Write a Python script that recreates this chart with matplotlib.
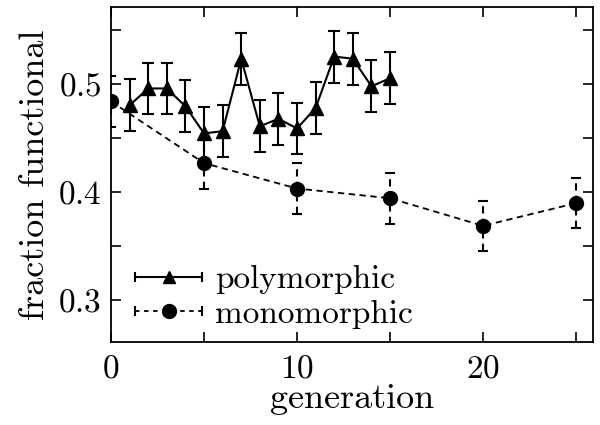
import matplotlib
matplotlib.use("Agg")
import matplotlib.pyplot as plt
from matplotlib.legend_handler import HandlerLine2D
from matplotlib.lines import Line2D
from matplotlib.ticker import MultipleLocator

plt.rcParams['font.family'] = 'serif'
plt.rcParams['font.serif'] = ['cmr10']
plt.rcParams['mathtext.fontset'] = 'cm'
plt.rcParams['axes.formatter.use_mathtext'] = True

# polymorphic populations
poly_gen = [1, 2, 3, 4, 5, 6, 7, 8, 9, 10, 11, 12, 13, 14, 15]
poly_frac = [0.480, 0.4955, 0.4955, 0.479, 0.454, 0.456, 0.523, 0.4605, 0.4675,
             0.4585, 0.4775, 0.525, 0.523, 0.4975, 0.505]
poly_err = [0.024] * len(poly_gen)

# monomorphic populations
mono_gen = [0, 5, 10, 15, 20, 25]
mono_frac = [0.4835, 0.4265, 0.403, 0.394, 0.3685, 0.3895]
mono_err = [0.0235, 0.024, 0.0235, 0.0235, 0.023, 0.023]

DASH = (3.5, 2.5)


class HandlerCapped(HandlerLine2D):
    # gnuplot-like key: line with marker in the middle and caps at the ends
    def create_artists(self, legend, orig_handle, xdescent, ydescent,
                       width, height, fontsize, trans):
        artists = super().create_artists(legend, orig_handle, xdescent, ydescent,
                                         width, height, fontsize, trans)
        y = height / 2 - ydescent
        caps = Line2D([-xdescent, width - xdescent], [y, y], ls='none',
                      marker='|', markersize=7, markeredgewidth=1.5, color='k',
                      transform=trans)
        return list(artists) + [caps]


fig = plt.figure(figsize=(6, 4.25), dpi=100)
ax = fig.add_axes([0.185, 0.195, 0.803, 0.789])

eb1 = ax.errorbar(poly_gen, poly_frac, yerr=poly_err, color='k', ls='-', lw=1.5,
                  marker='^', markersize=10, capsize=4.5, elinewidth=1.5,
                  capthick=1.5)
eb2 = ax.errorbar(mono_gen, mono_frac, yerr=mono_err, color='k', ls='--', lw=1.3,
                  dashes=DASH, marker='o', markersize=10, capsize=3.5,
                  elinewidth=1.5, capthick=1.5)
eb2[2][0].set_linestyle((0, DASH))

h1 = Line2D([], [], color='k', ls='-', lw=1.5, marker='^', markersize=9)
h2 = Line2D([], [], color='k', ls='--', lw=1.3, dashes=(2.5, 2.5), marker='o',
            markersize=10)
ax.legend([h1, h2], ['polymorphic', 'monomorphic'], loc='lower left',
          frameon=False, fontsize=24, numpoints=1, handlelength=2.0,
          handletextpad=0.4, labelspacing=0.15, borderaxespad=0.0,
          bbox_to_anchor=(0.023, 0.0),
          handler_map={h1: HandlerCapped(), h2: HandlerCapped()})

ax.set_xlim(0, 25.9)
ax.set_ylim(0.261, 0.571)
ax.xaxis.set_major_locator(MultipleLocator(10))
ax.xaxis.set_minor_locator(MultipleLocator(5))
ax.yaxis.set_major_locator(MultipleLocator(0.1))
ax.yaxis.set_minor_locator(MultipleLocator(0.05))
ax.tick_params(which='both', direction='in', top=True, right=True,
               length=7, width=1.2, labelsize=24)
ax.tick_params(axis='x', pad=9)
ax.tick_params(axis='y', pad=7)
for s in ax.spines.values():
    s.set_linewidth(1.3)

ax.set_xlabel('generation', fontsize=26, labelpad=0)
ax.set_ylabel('fraction functional', fontsize=26, labelpad=5)

fig.savefig('out.png', dpi=100)
